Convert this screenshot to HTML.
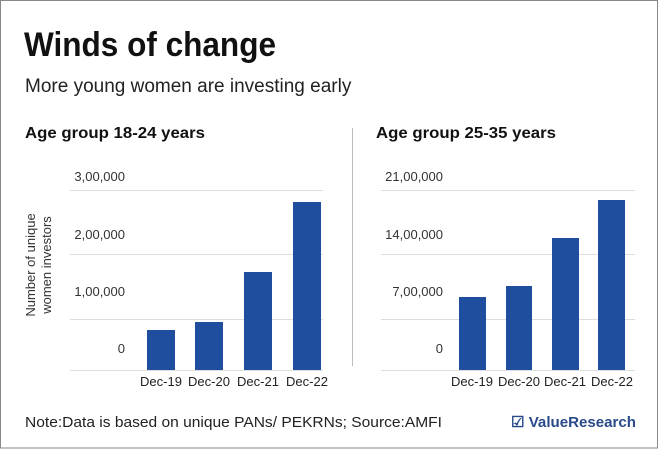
<!DOCTYPE html>
<html><head><meta charset="utf-8"><style>
html,body{margin:0;padding:0;background:#fff;}
svg{display:block;font-family:"Liberation Sans",sans-serif;}
</style></head><body>
<svg width="660" height="449" viewBox="0 0 660 449" xmlns="http://www.w3.org/2000/svg">
<rect x="0.5" y="0.5" width="657" height="447.5" fill="#fff" stroke="#888" stroke-width="1"/>
<text x="24" y="56" font-size="34" font-weight="bold" fill="#111" textLength="252" lengthAdjust="spacingAndGlyphs">Winds of change</text>
<text x="25" y="92" font-size="19" fill="#222">More young women are investing early</text>
<text x="25" y="138" font-size="16" font-weight="bold" fill="#111" textLength="180" lengthAdjust="spacingAndGlyphs">Age group 18-24 years</text>
<text x="376" y="138" font-size="16" font-weight="bold" fill="#111" textLength="180" lengthAdjust="spacingAndGlyphs">Age group 25-35 years</text>
<line x1="352.5" y1="128" x2="352.5" y2="366" stroke="#bbb" stroke-width="1"/>
<g stroke="#ddd" stroke-width="1">
<line x1="70" y1="190.5" x2="323" y2="190.5"/><line x1="70" y1="254.5" x2="323" y2="254.5"/><line x1="70" y1="319.5" x2="323" y2="319.5"/><line x1="70" y1="370.5" x2="323" y2="370.5"/>
<line x1="381" y1="190.5" x2="635" y2="190.5"/><line x1="381" y1="254.5" x2="635" y2="254.5"/><line x1="381" y1="319.5" x2="635" y2="319.5"/><line x1="381" y1="370.5" x2="635" y2="370.5"/>
</g>
<g font-size="13" fill="#333" text-anchor="end">
<text x="125" y="181">3,00,000</text><text x="125" y="239">2,00,000</text><text x="125" y="296">1,00,000</text><text x="125" y="353">0</text>
<text x="443" y="181">21,00,000</text><text x="443" y="239">14,00,000</text><text x="443" y="296">7,00,000</text><text x="443" y="353">0</text>
</g>
<g fill="#1f4e9e">
<rect x="147" y="330" width="28" height="40"/><rect x="195" y="322" width="28" height="48"/><rect x="244" y="272" width="28" height="98"/><rect x="293" y="202" width="28" height="168"/>
<rect x="459" y="297" width="27" height="73"/><rect x="506" y="286" width="26" height="84"/><rect x="552" y="238" width="27" height="132"/><rect x="598" y="200" width="27" height="170"/>
</g>
<g font-size="13" fill="#222" text-anchor="middle">
<text x="161" y="386">Dec-19</text><text x="209" y="386">Dec-20</text><text x="258" y="386">Dec-21</text><text x="307" y="386">Dec-22</text>
<text x="472" y="386">Dec-19</text><text x="519" y="386">Dec-20</text><text x="565" y="386">Dec-21</text><text x="612" y="386">Dec-22</text>
</g>
<g font-size="13" fill="#333" text-anchor="middle" transform="translate(35,265) rotate(-90)">
<text x="0" y="0">Number of unique</text><text x="0" y="16">women investors</text>
</g>
<text x="25" y="427" font-size="15" fill="#222" textLength="417" lengthAdjust="spacingAndGlyphs">Note:Data is based on unique PANs/ PEKRNs; Source:AMFI</text>
<text x="511" y="427" font-size="15" font-weight="bold" fill="#2a4a8a" textLength="125" lengthAdjust="spacingAndGlyphs">☑ ValueResearch</text>
</svg>
</body></html>
